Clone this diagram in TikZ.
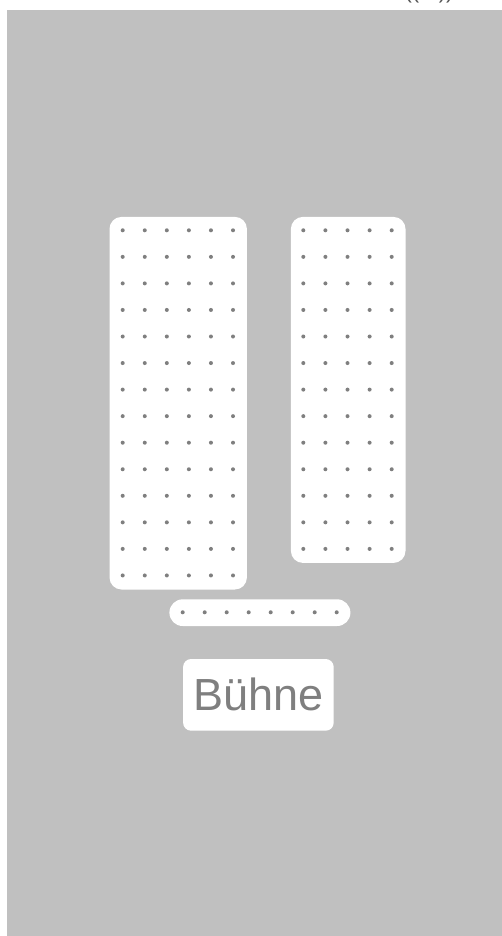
\documentclass[tikz,border=0pt]{standalone}
\usepackage{fontspec}
\setmainfont{Liberation Sans}
\usepackage{xcolor}
\usetikzlibrary{positioning}

\definecolor{hallgray}{HTML}{C0C0C0}
\definecolor{seatgray}{HTML}{7F7F7F}
\definecolor{signgray}{HTML}{555555}

\begin{document}
\begin{tikzpicture}[
    x=1pt, y=-1pt,
    block/.style={rectangle, rounded corners=12pt, fill=white, inner sep=0pt},
    seat/.style={fill=seatgray}
  ]

  \useasboundingbox (0,0) rectangle (502,936);
  \clip (0,0) rectangle (502,936);
  \fill[hallgray] (7,10) rectangle (502,936);

  % top sign, cut off at the edge as in the plan
  \node[anchor=base, font=\fontsize{22}{26}\selectfont, text=signgray, inner sep=0pt] (sign) at (429,-1.5) {(( · ))};

  % seating blocks
  \node[block, anchor=north west, minimum width=137.4pt, minimum height=372.6pt] (leftblock) at (109.3,216.7) {};
  \node[block, anchor=north west, minimum width=114.6pt, minimum height=346pt] (rightblock) at (290.7,216.7) {};
  \node[block, rounded corners=13.3pt, minimum width=181pt, minimum height=26.7pt, below=9.4pt of leftblock.south east, anchor=north, xshift=12.8pt] (frontrow) {};
  \node[block, rounded corners=8pt, minimum width=150.6pt, minimum height=71.7pt, below=32.6pt of frontrow, xshift=-1.5pt,
        font=\fontsize{45}{54}\selectfont, text=seatgray] (stage) {Bühne};

  % seats
  \foreach \r in {0,...,13}
    \foreach \c in {0,...,5}
      \fill[seat] (122.7+22.06*\c, 230.3+26.55*\r) circle[radius=2pt];
  \foreach \r in {0,...,12}
    \foreach \c in {0,...,4}
      \fill[seat] (303.3+22.1*\c, 230.3+26.55*\r) circle[radius=2pt];
  \foreach \c in {0,...,7}
    \fill[seat] (182.7+22*\c, 612.3) circle[radius=2pt];

\end{tikzpicture}
\end{document}
